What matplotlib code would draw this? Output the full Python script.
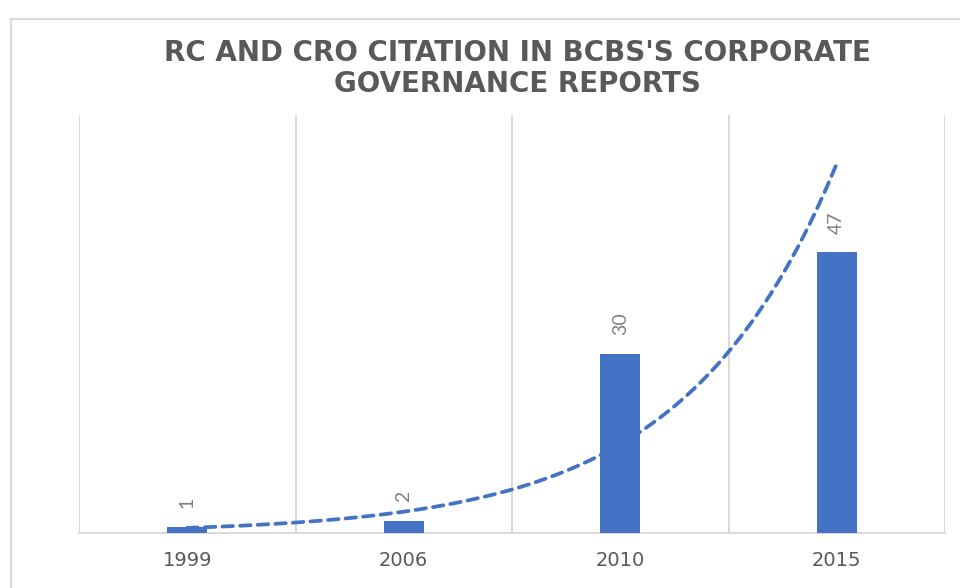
import numpy as np
import matplotlib
matplotlib.use("Agg")
import matplotlib.pyplot as plt
from matplotlib.lines import Line2D

# ---- data ----
categories = ["1999", "2006", "2010", "2015"]
citations = [1, 2, 30, 47]
title_text = "RC AND CRO CITATION IN BCBS'S CORPORATE\nGOVERNANCE REPORTS"

bar_color = "#4472C4"
grid_color = "#d9d9d9"

fig = plt.figure(figsize=(9.6, 5.88), dpi=100)
fig.patch.set_facecolor("white")

# chart-area frame (top and left edges visible in the reference)
fig.add_artist(Line2D([11/960, 1.0], [1 - 19/588, 1 - 19/588],
                      transform=fig.transFigure, color="#dcdcdc", lw=1.6))
fig.add_artist(Line2D([11/960, 11/960], [0.0, 1 - 19/588],
                      transform=fig.transFigure, color="#dcdcdc", lw=1.6))

ax = fig.add_axes([79/960, 55/588, 866/960, 418/588])
x = np.arange(len(categories))

ax.bar(x, citations, width=0.185, color=bar_color, zorder=3)

# exponential trendline fitted to the data (Excel-style, x = 1..n)
xn = np.arange(1, len(citations) + 1)
b, ln_a = np.polyfit(xn, np.log(citations), 1)
xs = np.linspace(1, len(citations), 200)
ys = np.exp(ln_a) * np.exp(b * xs)
ax.plot(xs - 1, ys, color=bar_color, lw=2.7, linestyle=(0, (2.8, 1.9)),
        dash_capstyle="round", zorder=4)

# data labels (rotated)
for xi, v in zip(x, citations):
    ax.annotate(str(v), (xi, v), xytext=(0, 13.5), textcoords="offset points",
                rotation=90, ha="center", va="bottom", fontsize=14,
                family=["Lato", "DejaVu Sans"], color="#808080", zorder=5)

ax.set_xlim(-0.5, len(categories) - 0.5)
ax.set_ylim(0, 70)

# vertical gridlines at category boundaries
ax.set_xticks(np.arange(-0.5, len(categories), 1.0), minor=True)
ax.grid(True, which="minor", axis="x", color=grid_color, lw=1.4, zorder=0)
ax.grid(False, which="major")

ax.set_xticks(x)
ax.set_xticklabels(categories, fontsize=14, color="#595959",
                   family=["DejaVu Sans"])
ax.tick_params(axis="x", which="both", length=0, pad=13)
ax.set_yticks([])

for s in ["top", "right", "left"]:
    ax.spines[s].set_visible(False)
ax.spines["bottom"].set_color(grid_color)
ax.spines["bottom"].set_linewidth(1.4)

ax.set_title(title_text, fontsize=20, fontweight="bold", color="#595959",
             family=["DejaVu Sans"], linespacing=1.12, pad=16.5, x=0.506)

fig.savefig("out.png", dpi=100, facecolor="white")
